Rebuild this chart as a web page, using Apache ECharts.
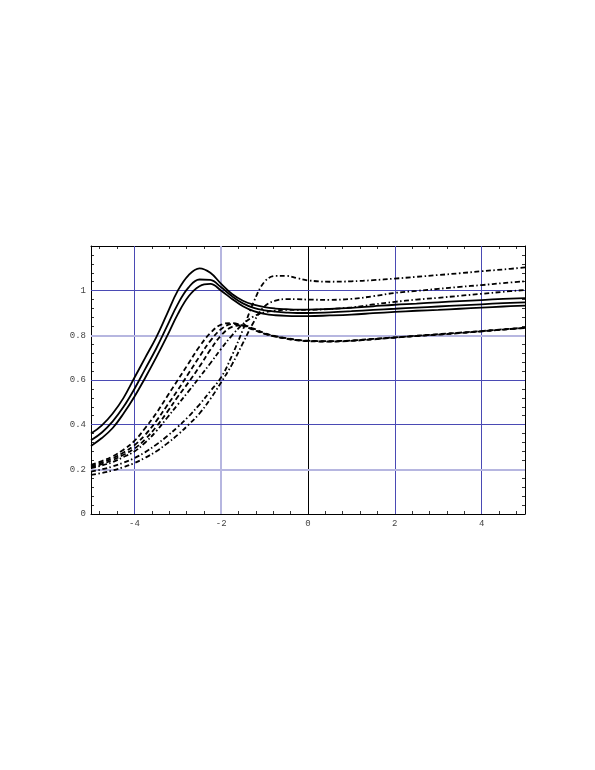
<!DOCTYPE html>
<html>
<head>
<meta charset="utf-8">
<script src="https://cdn.jsdelivr.net/npm/echarts@6/dist/echarts.min.js"></script>
<style>html,body{margin:0;background:#fff;}</style>
</head>
<body>
<div id="main" style="width:595px;height:770px;"></div>
<script type="text/javascript">
// sample x positions shared by every curve
var xs = [-5, -4.75, -4.5, -4.25, -4, -3.75, -3.5, -3.25, -3, -2.75, -2.5, -2.25, -2, -1.75, -1.5, -1.25, -1, -0.75, -0.5, -0.25, 0,
          0.5, 1, 1.5, 2, 2.5, 3, 3.5, 4, 4.5, 5];

// solid family
var solidA = [0.36, 0.397, 0.45, 0.52, 0.61, 0.70, 0.79, 0.895, 1.0, 1.07, 1.10, 1.08, 1.03, 0.985, 0.955, 0.937, 0.926, 0.92, 0.917, 0.915, 0.915,
              0.918, 0.923, 0.93, 0.937, 0.942, 0.948, 0.953, 0.958, 0.963, 0.967];
var solidB = [0.33, 0.365, 0.415, 0.48, 0.56, 0.65, 0.74, 0.84, 0.94, 1.015, 1.05, 1.048, 1.015, 0.975, 0.943, 0.923, 0.912, 0.906, 0.902, 0.90, 0.90,
              0.903, 0.908, 0.914, 0.919, 0.924, 0.929, 0.934, 0.939, 0.944, 0.948];
var solidC = [0.305, 0.34, 0.385, 0.45, 0.525, 0.61, 0.70, 0.795, 0.895, 0.975, 1.02, 1.03, 1.0, 0.963, 0.93, 0.908, 0.896, 0.89, 0.887, 0.886, 0.886,
              0.889, 0.893, 0.899, 0.905, 0.91, 0.914, 0.919, 0.924, 0.929, 0.933];

// dashed family
var dashA = [0.22, 0.237, 0.258, 0.288, 0.327, 0.385, 0.45, 0.525, 0.60, 0.675, 0.75, 0.81, 0.848, 0.855, 0.843, 0.824, 0.807, 0.794, 0.785, 0.778, 0.774,
             0.772, 0.775, 0.782, 0.79, 0.797, 0.803, 0.81, 0.818, 0.826, 0.833];
var dashB = [0.215, 0.23, 0.25, 0.275, 0.308, 0.355, 0.415, 0.485, 0.555, 0.63, 0.705, 0.775, 0.828, 0.85, 0.845, 0.826, 0.808, 0.795, 0.786, 0.779, 0.775,
             0.773, 0.776, 0.783, 0.79, 0.797, 0.804, 0.811, 0.818, 0.826, 0.833];
var dashC = [0.21, 0.223, 0.242, 0.265, 0.293, 0.335, 0.39, 0.455, 0.525, 0.59, 0.66, 0.735, 0.80, 0.838, 0.845, 0.83, 0.81, 0.796, 0.787, 0.78, 0.776,
             0.774, 0.777, 0.784, 0.791, 0.798, 0.805, 0.812, 0.819, 0.827, 0.834];

// dash-dot family
var dotA = [0.205, 0.217, 0.233, 0.255, 0.28, 0.32, 0.37, 0.43, 0.49, 0.55, 0.612, 0.675, 0.74, 0.80, 0.85, 0.885, 0.903, 0.911, 0.914, 0.914, 0.914,
            0.918, 0.925, 0.938, 0.95, 0.96, 0.968, 0.977, 0.986, 0.995, 1.003];
var dotB = [0.19, 0.20, 0.213, 0.23, 0.25, 0.277, 0.31, 0.348, 0.39, 0.437, 0.49, 0.55, 0.612, 0.71, 0.825, 0.95, 1.04, 1.066, 1.066, 1.056, 1.046,
            1.04, 1.042, 1.047, 1.054, 1.062, 1.07, 1.078, 1.087, 1.095, 1.104];
var dotC = [0.175, 0.184, 0.195, 0.21, 0.228, 0.252, 0.28, 0.315, 0.355, 0.40, 0.45, 0.515, 0.59, 0.67, 0.765, 0.86, 0.93, 0.955, 0.962, 0.962, 0.96,
            0.959, 0.963, 0.975, 0.99, 0.999, 1.008, 1.017, 1.025, 1.034, 1.042];

// tick labels and grid lines
var xLabels = [-4, -2, 0, 2, 4];
var yLabels = [0, 0.2, 0.4, 0.6, 0.8, 1];
var xGrid = [-4, -2, 0, 2, 4];
var yGrid = [0.2, 0.4, 0.6, 0.8, 1];

var xTicks = [];
for (var k = -12; k <= 12; k++) xTicks.push(+(k * 0.4).toFixed(1));

function pts(ys) {
    return xs.map(function (x, i) { return [x, ys[i]]; });
}

var darkBlue = '#4a4ab4', lightBlue = '#b6b6e0';
var gridLines = [];
xGrid.forEach(function (v) {
    var st = v === 0 ? {color: '#000', width: 1} : (v === -2 ? {color: lightBlue, width: 2} : {color: darkBlue, width: 1});
    st.type = 'solid';
    gridLines.push({xAxis: v, lineStyle: st});
});
yGrid.forEach(function (v) {
    var st = (v === 0.2 || v === 0.8) ? {color: lightBlue, width: 2} : {color: darkBlue, width: 1};
    st.type = 'solid';
    gridLines.push({yAxis: v, lineStyle: st});
});

var labelFont = {fontFamily: 'Liberation Mono', fontSize: 9, color: '#444'};

function mkX(pos, show) {
    return {
        type: 'value', position: pos, min: -5, max: 5,
        axisLine: {show: true, onZero: false, lineStyle: {color: '#000', width: 1}},
        axisTick: {show: true, inside: true, length: 3, customValues: xTicks, lineStyle: {color: '#000', width: 0.8}},
        axisLabel: Object.assign({show: show, margin: 5, customValues: xLabels}, labelFont),
        splitLine: {show: false}
    };
}
function mkY(pos, show) {
    return {
        type: 'value', position: pos, min: 0, max: 1.2, interval: 0.2,
        axisLine: {show: true, onZero: false, lineStyle: {color: '#000', width: 1}},
        axisTick: {show: true, inside: true, length: 3, lineStyle: {color: '#000', width: 0.8}},
        minorTick: {show: true, splitNumber: 5, length: 3, lineStyle: {color: '#000', width: 0.8}},
        axisLabel: Object.assign({show: show, margin: 5, customValues: yLabels,
            formatter: function (v) { return String(+v.toFixed(1)); }}, labelFont),
        splitLine: {show: false}
    };
}

function line(ys, type, extra) {
    var s = {
        type: 'line', data: pts(ys), smooth: 0.4, symbol: 'none',
        lineStyle: {color: '#000', width: 1.8, type: type, cap: 'butt'},
        animation: false, silent: true
    };
    return Object.assign(s, extra || {});
}

var dashPat = [5, 3];
var dotPat = [5, 2.5, 1.5, 2.5];

var option = {
    backgroundColor: '#fff',
    grid: {left: 91, right: 70, top: 246, bottom: 256},
    xAxis: [mkX('bottom', true), mkX('top', false)],
    yAxis: [mkY('left', true), mkY('right', false)],
    series: [
        line(solidA, 'solid', {markLine: {z: 1, silent: true, symbol: ['none', 'none'], label: {show: false}, animation: false, data: gridLines}}),
        line(solidB, 'solid'),
        line(solidC, 'solid'),
        line(dashA, dashPat),
        line(dashB, dashPat),
        line(dashC, dashPat),
        line(dotA, dotPat),
        line(dotB, dotPat),
        line(dotC, dotPat)
    ]
};

var myChart = echarts.init(document.getElementById('main'));
myChart.setOption(option);
</script>
</body>
</html>
